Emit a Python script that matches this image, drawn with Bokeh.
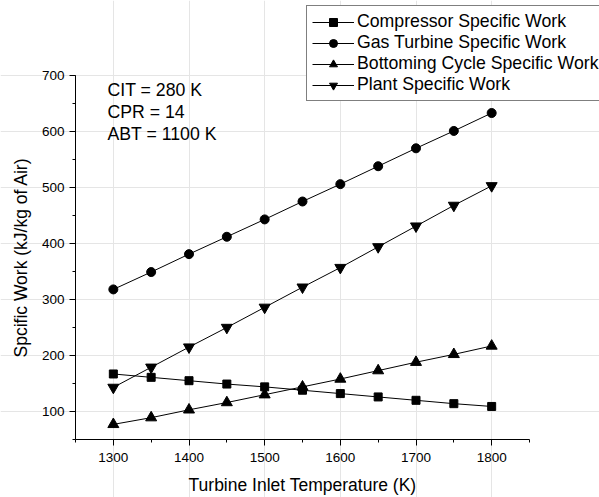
from bokeh.plotting import figure
from bokeh.models import Range1d, SingleIntervalTicker, Label, Legend, LinearAxis
from bokeh.embed import file_html
from bokeh.resources import INLINE

# ---- data ----
tit = [1300, 1350, 1400, 1450, 1500, 1550, 1600, 1650, 1700, 1750, 1800]
compressor = [167, 161, 155, 149, 144, 138, 132, 126, 120, 114, 109]
gas_turbine = [318, 349, 381, 412, 443, 475, 506, 538, 570, 601, 633]
bottoming = [77, 89, 103, 116, 130, 144, 158, 173, 188, 202, 217]
plant = [143, 179, 215, 250, 286, 322, 357, 394, 431, 468, 503]

series_names = ["Compressor Specific Work", "Gas Turbine Specific Work",
                "Bottoming Cycle Specific Work", "Plant Specific Work"]
annotations = ["CIT = 280 K", "CPR = 14", "ABT = 1100 K"]

x_axis_span = (1250, 1850)
y_axis_span = (50, 700)

FONT = "Liberation Sans"

W, H = 599, 497
AX_LEFT, AX_RIGHT = 75, 529    # pixel of x=1250 and x=1850
AX_TOP, AX_BOTTOM = 75, 439    # pixel of y=700 and y=50

# ranges extended so the plotting frame spans the whole canvas
ypp = (y_axis_span[1] - y_axis_span[0]) / (AX_BOTTOM - AX_TOP)
xpp = (x_axis_span[1] - x_axis_span[0]) / (AX_RIGHT - AX_LEFT)
y_start = y_axis_span[0] - (H - AX_BOTTOM) * ypp
y_end = y_axis_span[1] + AX_TOP * ypp
x_start = x_axis_span[0] - AX_LEFT * xpp
x_end = x_axis_span[1] + (W - AX_RIGHT) * xpp

p = figure(width=W, height=H, output_backend="svg", toolbar_location=None,
           x_range=Range1d(x_start, x_end), y_range=Range1d(y_start, y_end),
           x_axis_location=None, y_axis_location=None,
           min_border_left=0, min_border_right=0, min_border_top=0, min_border_bottom=0)
p.outline_line_color = None
p.background_fill_color = "white"
p.border_fill_color = "white"

xaxis = LinearAxis(fixed_location=y_axis_span[0])
yaxis = LinearAxis(fixed_location=x_axis_span[0])
p.add_layout(xaxis, "below")
p.add_layout(yaxis, "left")

xaxis.ticker = SingleIntervalTicker(interval=100, num_minor_ticks=2)
yaxis.ticker = SingleIntervalTicker(interval=100, num_minor_ticks=2)
xaxis.bounds = x_axis_span
yaxis.bounds = y_axis_span
for ax in (xaxis, yaxis):
    ax.axis_line_color = "black"
    ax.axis_line_width = 1
    ax.major_tick_line_color = "black"
    ax.minor_tick_line_color = "black"
    ax.major_tick_in = 0
    ax.major_tick_out = 6
    ax.minor_tick_in = 0
    ax.minor_tick_out = 3
    ax.major_label_text_font = FONT
    ax.major_label_text_font_size = "13.5px"
    ax.major_label_text_color = "black"
    ax.axis_label_text_font = FONT
    ax.axis_label_text_font_style = "normal"
    ax.axis_label_text_color = "black"
    ax.axis_label_text_font_size = "17.5px"

xaxis.major_label_standoff = 7
xaxis.axis_label = "Turbine Inlet Temperature (K)"
xaxis.axis_label_standoff = 10
yaxis.major_label_standoff = 5
yaxis.axis_label = "Spcific Work (kJ/kg of Air)"
yaxis.axis_label_standoff = 8

markers = ["square", "circle", "triangle", "inverted_triangle"]
sizes = [8, 9, 11, 11]
data = [compressor, gas_turbine, bottoming, plant]

items = []
for name, vals, mk, sz in zip(series_names, data, markers, sizes):
    l = p.line(tit, vals, line_color="black", line_width=1)
    s = p.scatter(tit, vals, marker=mk, size=sz, fill_color="black", line_color="black")
    items.append((name, [l, s]))

# legend: left edge at x=306, bottom at y=101 (pixels of the picture)
legend = Legend(items=items, location=(306, H - 101))
legend.label_text_font = FONT
legend.label_text_font_size = "17.7px"
legend.label_text_color = "black"
legend.glyph_width = 42
legend.glyph_height = 20
legend.label_height = 20
legend.label_standoff = 3
legend.padding = 5
legend.spacing = 0
legend.margin = 0
legend.border_line_color = "black"
legend.border_line_width = 1
legend.background_fill_color = "white"
legend.background_fill_alpha = 1
p.add_layout(legend, "center")

for txt, base in zip(annotations, [89, 111, 133]):
    p.add_layout(Label(x=107, y=H - base, x_units="screen", y_units="screen", text=txt,
                       text_font=FONT, text_font_size="17.7px", text_color="black",
                       text_baseline="alphabetic"))

open("out.html", "w").write(file_html(p, INLINE))
